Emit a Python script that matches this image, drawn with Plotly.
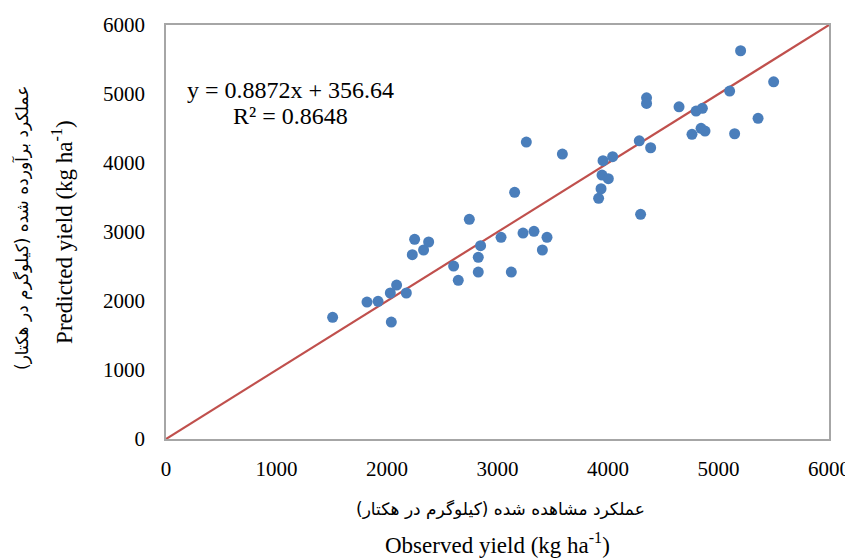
import plotly.graph_objects as go

observed = [1508, 1819, 1919, 2030, 2087, 2175, 2039, 2229, 2250, 2331, 2377, 2603,
            2645, 2745, 2826, 2826, 2847, 3032, 3125, 3155, 3231, 3261, 3330, 3406,
            3448, 3587, 3915, 3937, 3946, 3955, 4003, 4042, 4295, 4283, 4349, 4349,
            4386, 4643, 4760, 4797, 4842, 4854, 4878, 5101, 5146, 5200, 5358, 5499]
predicted = [1763, 1985, 1995, 2116, 2231, 2116, 1695, 2671, 2894, 2739, 2855, 2507,
             2300, 3183, 2420, 2633, 2801, 2923, 2420, 3575, 2985, 4304, 3010, 2739,
             2923, 4130, 3488, 3627, 3825, 4033, 3772, 4091, 3256, 4322, 4945, 4864,
             4221, 4815, 4415, 4753, 4502, 4792, 4463, 5043, 4424, 5627, 4647, 5177]
line_x = [0, 6000]
line_y = [0, 6000]
tick_vals = [0, 1000, 2000, 3000, 4000, 5000, 6000]

equation = "y = 0.8872x + 356.64"
r2_text = "R² = 0.8648"
x_title_fa = "عملکرد مشاهده شده (کیلوگرم در هکتار)"
x_title_en = "Observed yield (kg ha<sup>-1</sup>)"
y_title_fa = "عملکرد برآورده شده (کیلوگرم در هکتار)"
y_title_en = "Predicted yield (kg ha<sup>-1</sup>)"

serif = "Liberation Serif, Times New Roman, serif"
fa_font = "DejaVu Sans, Noto Sans, sans-serif"

fig = go.Figure()
fig.add_trace(go.Scatter(x=line_x, y=line_y, mode="lines",
                         line=dict(color="#C0504D", width=2.2), showlegend=False,
                         hoverinfo="skip"))
fig.add_trace(go.Scatter(x=observed, y=predicted, mode="markers",
                         marker=dict(color="#4A7EBB", size=11), showlegend=False))

axis_common = dict(range=[0, 6000], tickvals=tick_vals, showgrid=False, zeroline=False,
                   showline=True, linecolor="#A6A6A6", linewidth=1.5, mirror=True,
                   tickfont=dict(family=serif, size=21, color="black"), ticks="",
                   automargin=False)
fig.update_xaxes(**axis_common, ticklabelstandoff=10)
fig.update_yaxes(**axis_common, ticklabelstandoff=15)

fig.add_annotation(x=0.188, y=0.843, xref="paper", yref="paper", text=equation,
                   showarrow=False, font=dict(family=serif, size=24, color="black"),
                   xanchor="center", yanchor="middle")
fig.add_annotation(x=0.188, y=0.78, xref="paper", yref="paper", text=r2_text,
                   showarrow=False, font=dict(family=serif, size=24, color="black"),
                   xanchor="center", yanchor="middle")

# axis titles
fig.add_annotation(x=0.505, y=-0.17, xref="paper", yref="paper", text=x_title_fa,
                   showarrow=False, font=dict(family=fa_font, size=17, color="black"),
                   xanchor="center", yanchor="middle")
fig.add_annotation(x=0.5, y=-0.252, xref="paper", yref="paper", text=x_title_en,
                   showarrow=False, font=dict(family=serif, size=23, color="black"),
                   xanchor="center", yanchor="middle")
fig.add_annotation(x=-0.217, y=0.51, xref="paper", yref="paper", text=y_title_fa,
                   showarrow=False, textangle=-90,
                   font=dict(family=fa_font, size=17, color="black"),
                   xanchor="center", yanchor="middle")
fig.add_annotation(x=-0.157, y=0.5, xref="paper", yref="paper", text=y_title_en,
                   showarrow=False, textangle=-90,
                   font=dict(family=serif, size=23, color="black"),
                   xanchor="center", yanchor="middle")

fig.update_layout(width=845, height=550, margin=dict(l=158, r=24, t=17, b=119),
                  plot_bgcolor="white", paper_bgcolor="white")
fig.write_html("out.html")
